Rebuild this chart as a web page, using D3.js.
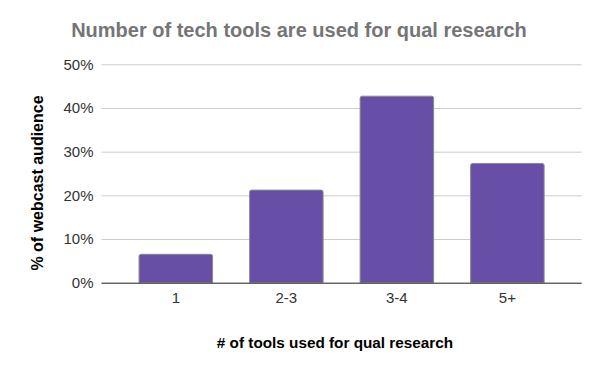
<!DOCTYPE html>
<html><head><meta charset="utf-8">
<script src="https://cdn.jsdelivr.net/npm/d3@7"></script>
<style>body{margin:0;background:#fff}svg{display:block;font-family:"Liberation Sans",Arial,sans-serif}</style>
</head><body><svg id="c" width="600" height="371"></svg>
<script>
const categories = ["1", "2-3", "3-4", "5+"];
const values = [0.065, 0.212, 0.427, 0.273];
const yTicks = [0, 0.1, 0.2, 0.3, 0.4, 0.5];
const title = "Number of tech tools are used for qual research";
const xTitle = "# of tools used for qual research";
const yTitle = "% of webcast audience";

(function () {
const svg = d3.select("#c");
const pL = 101.5, pR = 581.7, pT = 64.3, pB = 282.7;
const x = d3.scaleBand().domain(categories).range([pL, pR]).paddingInner(0.335).paddingOuter(0.34);
const y = d3.scaleLinear().domain([0, 0.5]).range([pB, pT]);

svg.append("text").attr("x", 299).attr("y", 37).attr("text-anchor", "middle")
  .attr("font-size", 20).attr("font-weight", "bold").attr("fill", "#757575").text(title);

const ga = svg.append("g").attr("transform", `translate(${pL},0)`)
  .call(d3.axisLeft(y).tickValues(yTicks).tickFormat(d3.format(".0%")).tickSize(-(pR-pL)).tickPadding(8));
ga.select(".domain").remove();
ga.selectAll(".tick line").attr("stroke", "#cccccc");
ga.selectAll(".tick text").attr("font-size", 15).attr("fill", "#333");

const w = x.bandwidth(), r = 2;
svg.append("g").selectAll("path").data(values).join("path")
  .attr("d", (d, i) => {
    const x0 = x(categories[i]), x1 = x0 + w, y0 = y(d), yb = y(0);
    return `M${x0},${yb}V${y0+r}Q${x0},${y0} ${x0+r},${y0}H${x1-r}Q${x1},${y0} ${x1},${y0+r}V${yb}Z`;
  })
  .attr("fill", "#674ea7").attr("stroke", "#8a8a8a").attr("stroke-width", 1);

const gx = svg.append("g").attr("transform", `translate(0,${pB})`)
  .call(d3.axisBottom(x).tickSize(0).tickPadding(10));
gx.select(".domain").attr("stroke", "#333").attr("d", `M${pL},0.5H${pR}`);
gx.selectAll(".tick text").attr("font-size", 15).attr("fill", "#333");

svg.append("text").attr("x", 335).attr("y", 348).attr("text-anchor", "middle")
  .attr("font-size", 15.3).attr("font-weight", "bold").attr("fill", "#000").text(xTitle);
svg.append("text").attr("transform", `translate(42.5,183) rotate(-90)`).attr("text-anchor", "middle")
  .attr("font-size", 16).attr("font-weight", "bold").attr("fill", "#000").text(yTitle);
})();
</script></body></html>
